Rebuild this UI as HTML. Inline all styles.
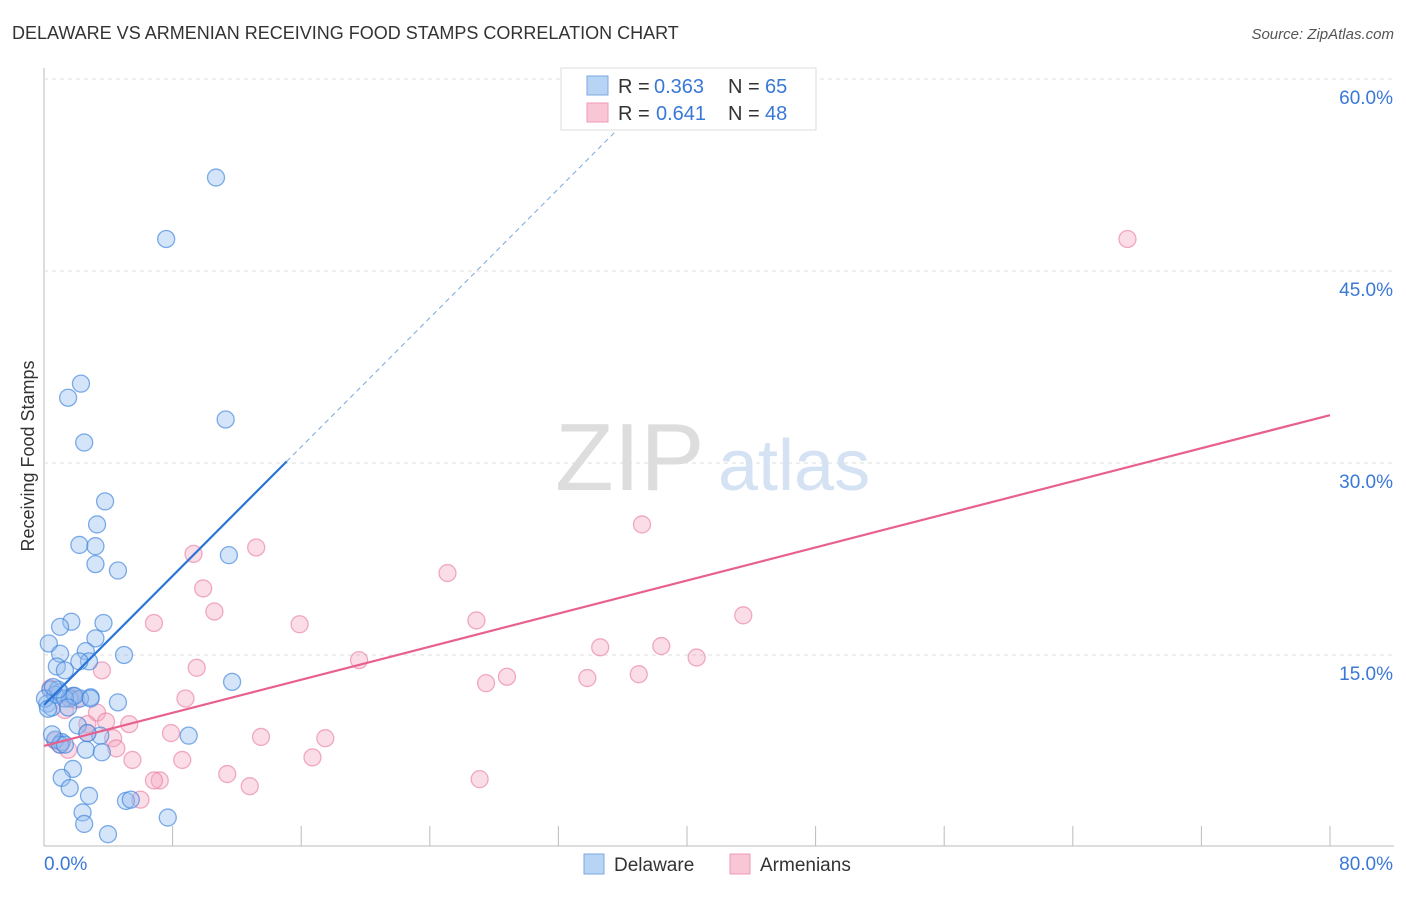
<!DOCTYPE html>
<html><head><meta charset="utf-8"><style>
body{margin:0;background:#fff;font-family:"Liberation Sans",sans-serif;}
svg text{font-family:"Liberation Sans",sans-serif;}
</style></head><body>
<svg id="chart" width="1406" height="892">
<text x="12" y="39" font-size="18" fill="#333">DELAWARE VS ARMENIAN RECEIVING FOOD STAMPS CORRELATION CHART</text>
<text x="1394" y="39" font-size="15" fill="#555" font-style="italic" text-anchor="end">Source: ZipAtlas.com</text>
<text transform="translate(34,456) rotate(-90)" font-size="18" fill="#333" text-anchor="middle">Receiving Food Stamps</text>
<g id="grid"></g>
<text x="555" y="490" font-size="96" fill="#ddd" font-family="Liberation Serif">ZIP</text>
<text x="718" y="490" font-size="72" fill="#d4e2f4">atlas</text>
<g id="pts"></g>
<g id="lines"></g>
<g>
<rect x="561" y="68" width="255" height="62" fill="#fff" stroke="#ddd"/>
<rect x="587" y="76" width="21" height="19" fill="#b8d4f5" stroke="#7aa8e0"/>
<rect x="587" y="103" width="21" height="19" fill="#f9c6d6" stroke="#ee9ab5"/>
<text x="618" y="93" font-size="20" fill="#333">R =</text>
<text x="654" y="93" font-size="20" fill="#3a78d8">0.363</text>
<text x="728" y="93" font-size="20" fill="#333">N =</text>
<text x="765" y="93" font-size="20" fill="#3a78d8">65</text>
<text x="618" y="120" font-size="20" fill="#333">R =</text>
<text x="656" y="120" font-size="20" fill="#3a78d8">0.641</text>
<text x="728" y="120" font-size="20" fill="#333">N =</text>
<text x="765" y="120" font-size="20" fill="#3a78d8">48</text>
</g>
<g>
<rect x="584" y="854" width="20" height="20" fill="#b8d4f5" stroke="#7aa8e0"/>
<text x="614" y="871" font-size="19" fill="#333">Delaware</text>
<rect x="730" y="854" width="20" height="20" fill="#f9c6d6" stroke="#ee9ab5"/>
<text x="760" y="871" font-size="19" fill="#333">Armenians</text>
</g>
</svg>
<script>
const yTicks=[15,30,45,60];
const yTickLabels=["15.0%","30.0%","45.0%","60.0%"];
const xTicks=[0,8,16,24,32,40,48,56,64,72,80];
const xEnds=["0.0%","80.0%"];
const delX=[10.7,7.6,2.3,1.5,2.5,11.3,3.8,3.3,2.2,3.2,3.2,4.6,11.5,1.7,3.7,1.0,3.2,0.3,1.0,2.6,4.98,2.8,2.2,0.8,1.3,0.4,1.0,1.8,2.9,4.6,0.2,0.5,11.7,2.1,3.5,2.7,9.0,0.7,1.1,2.6,3.6,1.8,1.1,1.6,2.8,5.1,5.4,2.4,2.5,7.7,3.98,0.7,1.6,0.06,0.25,2.24,1.3,0.87,1.9,1.0,0.56,1.5,2.9,1.3,0.5];
const delY=[52.3,47.5,36.2,35.1,31.6,33.4,27.0,25.2,23.6,23.5,22.1,21.6,22.8,17.6,17.5,17.2,16.3,15.9,15.1,15.3,15.0,14.5,14.5,14.1,13.8,12.3,12.1,11.8,11.7,11.3,11.2,10.9,12.9,9.5,8.7,8.9,8.7,8.4,8.2,7.6,7.4,6.1,5.4,4.6,4.0,3.6,3.7,2.7,1.8,2.3,1.0,11.9,11.6,11.6,10.8,11.6,11.6,12.3,11.8,8.0,12.5,10.9,11.6,8.0,8.8];
const armX=[67.4,37.2,13.2,9.3,25.1,9.9,10.6,43.5,6.84,15.9,26.9,34.6,38.4,40.6,19.6,9.5,3.6,28.8,33.8,37.0,27.5,8.8,0.4,1.7,1.3,3.3,3.86,2.7,5.3,2.7,4.3,13.5,17.5,7.9,1.0,0.7,1.5,4.5,5.5,8.6,16.7,11.4,7.2,6.84,27.1,12.8,6.0,2.0];
const armY=[47.5,25.2,23.4,22.9,21.4,20.2,18.4,18.1,17.5,17.4,17.7,15.6,15.7,14.8,14.6,14.0,13.8,13.3,13.2,13.5,12.8,11.6,12.4,11.7,10.7,10.5,9.8,9.6,9.6,8.9,8.5,8.6,8.5,8.9,8.0,8.3,7.6,7.7,6.8,6.8,7.0,5.7,5.2,5.2,5.3,4.75,3.7,11.5];
const delLine=[11.1,1.26], armLine=[7.9,0.323];
const X=v=>44+v/80*1286, Y=v=>847-v/60*768;
const NS="http://www.w3.org/2000/svg";
function mk(t,a,p){const e=document.createElementNS(NS,t);for(const k in a)e.setAttribute(k,a[k]);p.appendChild(e);return e;}
const grid=document.getElementById('grid');
mk('line',{x1:44,y1:68,x2:44,y2:846,stroke:'#bbb'},grid);
mk('line',{x1:44,y1:846,x2:1394,y2:846,stroke:'#bbb'},grid);
yTicks.forEach((t,i)=>{
 const g=mk('line',{x1:44,y1:Y(t),x2:1394,y2:Y(t),stroke:'#ddd','stroke-dasharray':'4,4'},grid);
 
 
 const tx=mk('text',{x:1393,y:Y(t)+25,'font-size':19,fill:'#3a78d8','text-anchor':'end'},grid);
 tx.textContent=yTickLabels[i];
 
 
});
xTicks.forEach(t=>{
 const l=mk('line',{x1:X(t),y1:826,x2:X(t),y2:846,stroke:'#bbb'},grid);
 
 
});
let a=mk('text',{x:44,y:870,'font-size':19,fill:'#3a78d8'},grid);a.textContent=xEnds[0];


a=mk('text',{x:1393,y:870,'font-size':19,fill:'#3a78d8','text-anchor':'end'},grid);a.textContent=xEnds[1];


const pts=document.getElementById('pts');
armX.forEach((v,i)=>{const c=mk('circle',{cx:X(v),cy:Y(armY[i]),r:8.5,fill:'rgba(246,170,195,0.4)',stroke:'rgba(232,120,160,0.6)','stroke-width':1.3},pts);
 
 });
delX.forEach((v,i)=>{const c=mk('circle',{cx:X(v),cy:Y(delY[i]),r:8.5,fill:'rgba(150,190,240,0.4)',stroke:'rgba(60,130,220,0.65)','stroke-width':1.3},pts);
 
 });
const lines=document.getElementById('lines');
let l=mk('line',{x1:X(0),y1:Y(delLine[0]),x2:X(15.1),y2:Y(delLine[0]+delLine[1]*15.1),stroke:'#2a74d8','stroke-width':2.2},lines);


const xe=(60-delLine[0])/delLine[1];
l=mk('line',{x1:X(15.1),y1:Y(delLine[0]+delLine[1]*15.1),x2:X(xe),y2:Y(60),stroke:'#7aa8e0','stroke-width':1,'stroke-dasharray':'5,4'},lines);


l=mk('line',{x1:X(0),y1:Y(armLine[0]),x2:X(80),y2:Y(armLine[0]+armLine[1]*80),stroke:'#e8608f','stroke-width':2.2},lines);


</script>
</body></html>
